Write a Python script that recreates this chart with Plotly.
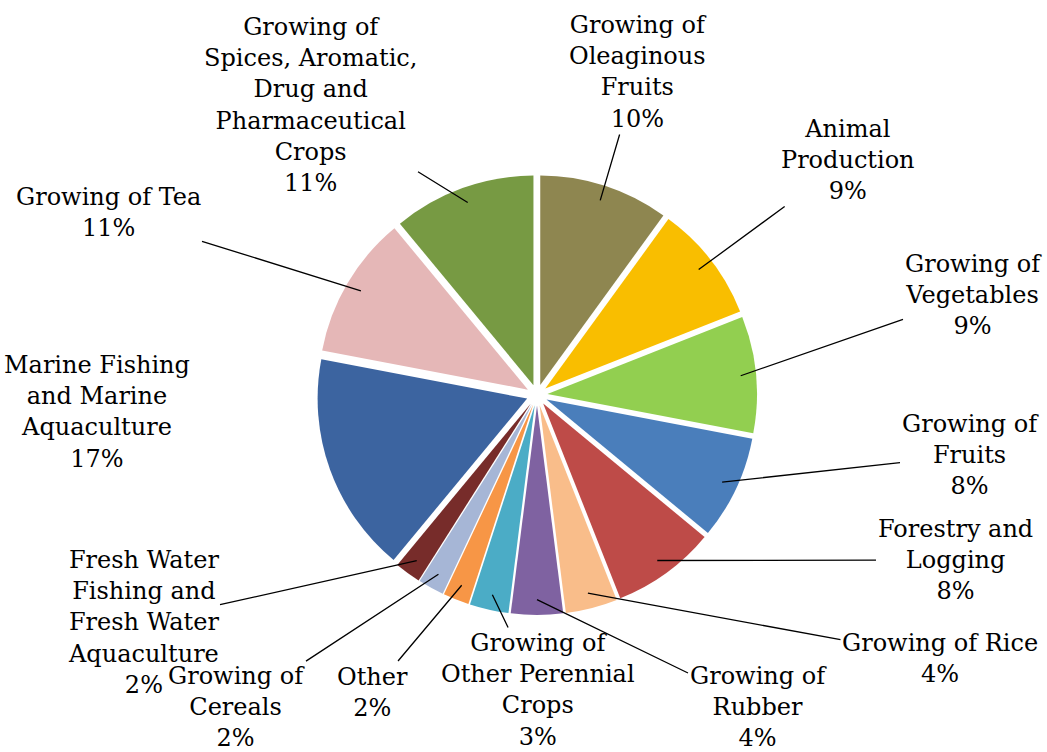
import math
import plotly.graph_objects as go

labels = [
    "Growing of<br>Oleaginous<br>Fruits",
    "Animal<br>Production",
    "Growing of<br>Vegetables",
    "Growing of<br>Fruits",
    "Forestry and<br>Logging",
    "Growing of Rice",
    "Growing of<br>Rubber",
    "Growing of<br>Other Perennial<br>Crops",
    "Other",
    "Growing of<br>Cereals",
    "Fresh Water<br>Fishing and<br>Fresh Water<br>Aquaculture",
    "Marine Fishing<br>and Marine<br>Aquaculture",
    "Growing of Tea",
    "Growing of<br>Spices, Aromatic,<br>Drug and<br>Pharmaceutical<br>Crops",
]
values = [10, 9, 9, 8, 8, 4, 4, 3, 2, 2, 2, 17, 11, 11]
colors = ["#8E8650", "#F9BE00", "#92CF50", "#4A7EBB", "#BE4B48", "#F9BD8A",
          "#7F62A1", "#4BACC6", "#F79646", "#A6B6D6", "#772C2A", "#3C64A0",
          "#E5B7B7", "#779A43"]

# label block centres (pixels, layout only) and whether a leader line is drawn
label_pos = [(638, 72), (848, 160), (973, 295), (970, 455), (955, 560),
             (940, 658), (758, 707), (538, 690), (372, 692), (236, 707),
             (143, 622), (97, 412), (108, 212), (310, 105)]
leader = [True] * 11 + [False, True, True]

W, H = 1047, 752
CX, CY, D = 537, 395, 440
PULL = 0.05
FONT = dict(family="DejaVu Serif", size=24, color="black")

fig = go.Figure(go.Pie(
    labels=labels,
    values=values,
    sort=False,
    direction="clockwise",
    rotation=0,
    pull=PULL,
    marker=dict(colors=colors, line=dict(width=0)),
    textinfo="none",
    showlegend=False,
    hoverinfo="label+percent",
    domain=dict(x=[(CX - 270) / W, (CX + 270) / W],
                y=[(H - CY - D / 2) / H, (H - CY + D / 2) / H]),
))

total = sum(values)
cum = 0
annotations = []
for lab, v, (tx, ty), show in zip(labels, values, label_pos, leader):
    mid = (cum + v / 2) / total * 2 * math.pi
    cum += v
    r = D / 2 * 0.93
    px = CX + r * math.sin(mid)
    py = CY - r * math.cos(mid)
    text = f"{lab}<br>{v / total * 100:.0f}%"
    if show:
        annotations.append(dict(
            x=px / W, y=1 - py / H, xref="paper", yref="paper",
            ax=tx - px, ay=ty - py, axref="pixel", ayref="pixel",
            text=text, showarrow=True, arrowhead=0, arrowwidth=1.3,
            arrowcolor="black", standoff=0, align="center",
            font=FONT,
        ))
    else:
        annotations.append(dict(
            x=tx / W, y=1 - ty / H, xref="paper", yref="paper",
            xanchor="center", yanchor="middle",
            text=text, showarrow=False, align="center",
            font=FONT,
        ))

fig.update_layout(
    width=W, height=H,
    margin=dict(l=0, r=0, t=0, b=0),
    paper_bgcolor="white",
    plot_bgcolor="white",
    annotations=annotations,
)
fig.write_html("out.html")
